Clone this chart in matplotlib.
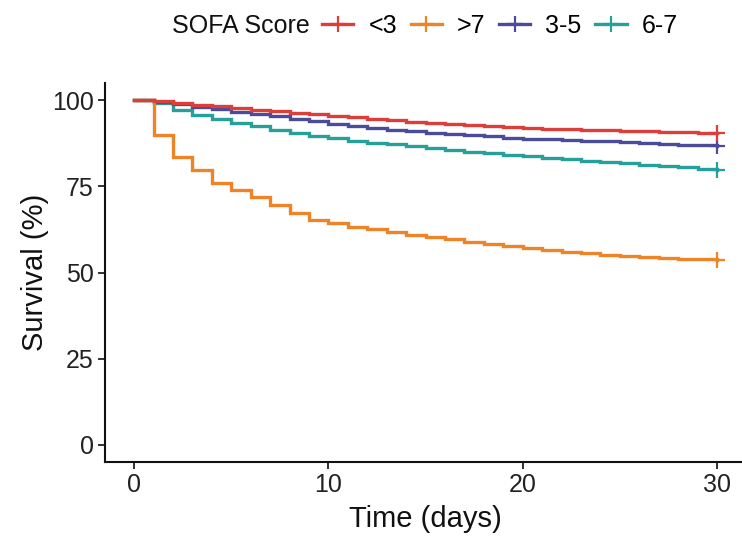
import numpy as np
import matplotlib.pyplot as plt
from matplotlib.lines import Line2D

plt.rcParams['font.family'] = ['Liberation Sans', 'DejaVu Sans']

# survival (%) read at each day, step changes at day boundaries
days = np.arange(0, 31)
surv_lt3 = [100, 99.7, 99.2, 98.7, 98.3, 97.8, 97.3, 96.9, 96.4, 96.0, 95.5,
            95.1, 94.6, 94.2, 93.8, 93.4, 93.1, 92.8, 92.5, 92.2, 92.0,
            91.8, 91.6, 91.4, 91.3, 91.1, 91.0, 90.9, 90.7, 90.6, 90.5]
surv_gt7 = [100, 90.0, 83.6, 79.9, 76.0, 74.1, 71.8, 69.6, 67.3, 65.2, 64.4,
            63.3, 62.5, 61.8, 61.0, 60.3, 59.6, 59.0, 58.3, 57.6, 57.0,
            56.5, 56.0, 55.6, 55.2, 54.8, 54.5, 54.2, 54.0, 53.8, 53.6]
surv_3_5 = [100, 99.6, 98.8, 98.1, 97.4, 96.7, 96.0, 95.3, 94.6, 93.9, 93.2,
            92.6, 92.0, 91.5, 91.0, 90.6, 90.2, 89.8, 89.5, 89.2, 88.9,
            88.7, 88.5, 88.3, 88.1, 87.8, 87.6, 87.4, 87.1, 86.9, 86.7]
surv_6_7 = [100, 99.1, 97.2, 95.7, 94.6, 93.5, 92.4, 91.4, 90.5, 89.7, 89.0,
            88.3, 87.7, 87.2, 86.7, 86.1, 85.6, 85.1, 84.6, 84.1, 83.7,
            83.3, 82.9, 82.5, 82.1, 81.7, 81.3, 80.9, 80.5, 80.2, 79.9]

groups = ['<3', '>7', '3-5', '6-7']
series = [surv_lt3, surv_gt7, surv_3_5, surv_6_7]
colors = ['#DC3F3A', '#EE8427', '#4B4B9C', '#26A09A']

fig = plt.figure(figsize=(7.42, 5.36), dpi=100)
ax = fig.add_axes([0.1415, 0.138, 0.864, 0.707])

# draw back to front so red is on top like the reference
for vals, col in zip(series[::-1], colors[::-1]):
    ax.step(days, vals, where='post', color=col, lw=2.4, solid_joinstyle='miter')
    ax.plot(days[-1], vals[-1], marker='+', color=col, markersize=11, mew=1.6)

ax.set_xlim(-1.5, 31.5)
ax.set_ylim(-5, 105)
ax.set_xticks([0, 10, 20, 30])
ax.set_yticks([0, 25, 50, 75, 100])
ax.tick_params(labelsize=18, colors='#222222', length=5, width=1.3, pad=3)
for s in ['top', 'right']:
    ax.spines[s].set_visible(False)
for s in ['left', 'bottom']:
    ax.spines[s].set_linewidth(1.5)
    ax.spines[s].set_color('#111111')

ax.set_xlabel('Time (days)', fontsize=21, color='#111111', labelpad=6)
ax.set_ylabel('Survival (%)', fontsize=21, color='#111111', labelpad=2)

handles = [Line2D([], [], color=c, lw=2.4, marker='+', markersize=11, mew=1.6)
           for c in colors]
fig.text(172 / 742, 1 - 26 / 536, 'SOFA Score', fontsize=18, color='#111111',
         ha='left', va='center')
fig.legend(handles, groups, loc='center left', bbox_to_anchor=(322 / 742, 1 - 26 / 536),
           ncol=4, frameon=False, fontsize=18, handlelength=1.25, handletextpad=0.6,
           columnspacing=0.55, borderpad=0, borderaxespad=0)

fig.savefig('out.png', dpi=100)
